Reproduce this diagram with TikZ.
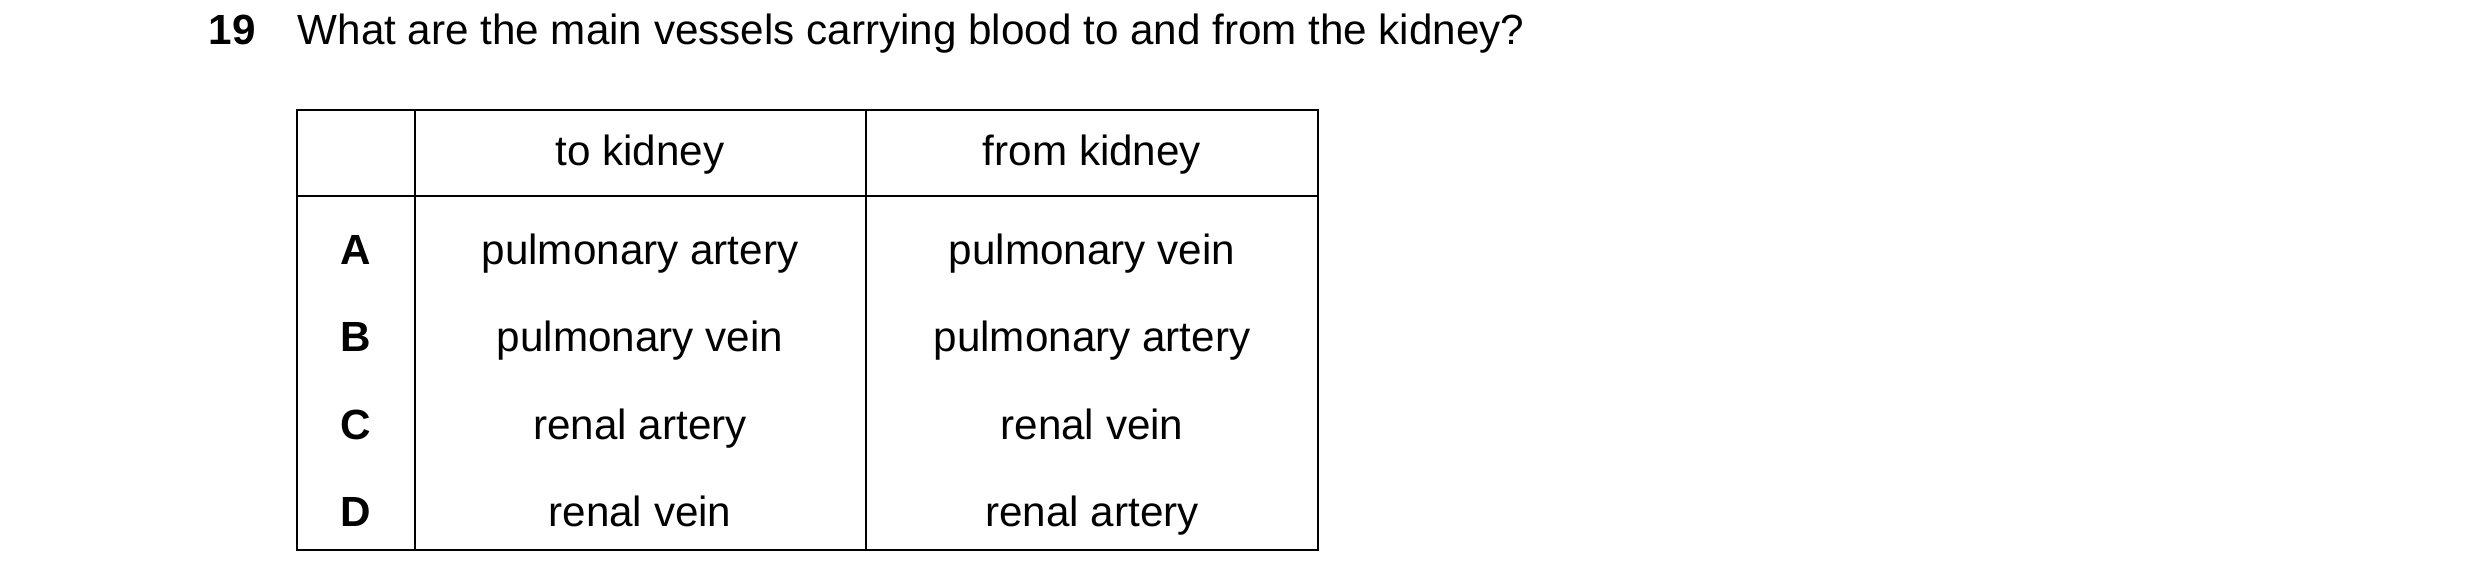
\documentclass[tikz,border=0pt]{standalone}
\usepackage{fontspec}
\setmainfont{Liberation Sans}
\begin{document}
\begin{tikzpicture}[x=0.01cm,y=-0.01cm,
  txt/.style={font=\fontsize{12}{14}\selectfont,anchor=base,inner sep=0},
  lbl/.style={txt,font=\fontsize{12}{14}\selectfont\bfseries},
  grid/.style={line width=0.6pt}]
\useasboundingbox (0,0) rectangle (2480,587);
\node[lbl,anchor=base west] (num) at (208,44) {19};
\node[txt,anchor=base west] (q) at (297,44) {What are the main vessels carrying blood to and from the kidney?};
\draw[grid] (297,110) rectangle (1318,550);
\draw[grid] (297,196) -- (1318,196);
\draw[grid] (415,110) -- (415,550);
\draw[grid] (866,110) -- (866,550);
\node[txt] (h1) at (640,165) {to kidney};
\node[txt] (h2) at (1092,165) {from kidney};
\foreach \y/\l/\a/\b in {264/A/pulmonary artery/pulmonary vein, 351/B/pulmonary vein/pulmonary artery, 439/C/renal artery/renal vein, 526/D/renal vein/renal artery}{
  \node[lbl] (l\l) at (356,\y) {\l};
  \node[txt] (a\l) at (640,\y) {\a};
  \node[txt] (b\l) at (1092,\y) {\b};
}
\end{tikzpicture}
\end{document}
